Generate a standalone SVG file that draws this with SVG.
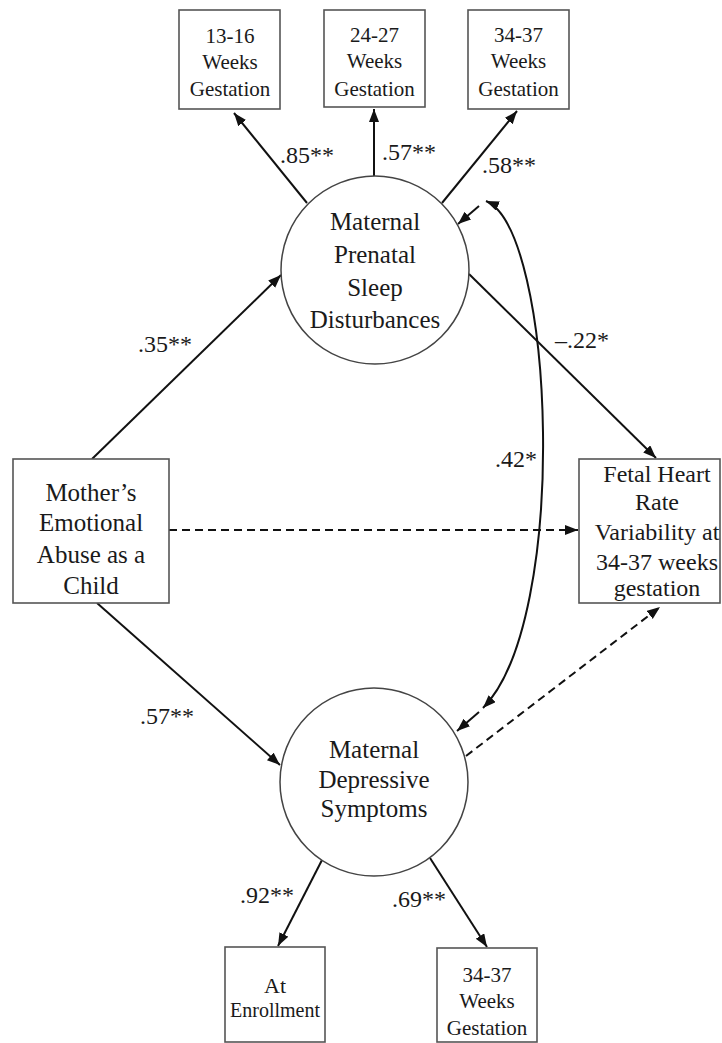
<svg xmlns="http://www.w3.org/2000/svg" width="722" height="1043" viewBox="0 0 722 1043">
<style>
  .box { fill: #fff; stroke: #555; stroke-width: 1.6; }
  .lat { fill: #fff; stroke: #444; stroke-width: 1.5; }
  text { font-family: "Liberation Serif", "Times New Roman", Tinos, "Nimbus Roman", "DejaVu Serif", serif; fill: #1a1a1a; }
  .t { text-anchor: middle; }
  .t25 { font-size: 25px; }
  .t24 { font-size: 24px; }
  .t21 { font-size: 21px; }
  .lbl { font-size: 24px; }
  .c { fill: none; stroke: #111; stroke-width: 2; }
  .d { fill: none; stroke: #111; stroke-width: 2; stroke-dasharray: 8 5; }
</style>
<defs>
  <marker id="ah" markerUnits="userSpaceOnUse" markerWidth="14" markerHeight="12" viewBox="0 0 14 12" refX="13" refY="5" orient="auto-start-reverse">
    <path d="M0,0 L13,5 L0,10 z" fill="#111"/>
  </marker>
</defs>
<rect width="722" height="1043" fill="#fff"/>

<g id="connectors">
  <line class="c" x1="307" y1="203" x2="234" y2="113" marker-end="url(#ah)"/>
  <line class="c" x1="374" y1="176" x2="374" y2="109" marker-end="url(#ah)"/>
  <line class="c" x1="442" y1="203" x2="517" y2="111" marker-end="url(#ah)"/>
  <line class="c" x1="92" y1="459" x2="281" y2="275" marker-end="url(#ah)"/>
  <line class="c" x1="97" y1="603" x2="280" y2="765" marker-end="url(#ah)"/>
  <line class="c" x1="469" y1="274" x2="656" y2="458" marker-end="url(#ah)"/>
  <line class="d" x1="169" y1="530" x2="578" y2="530" marker-end="url(#ah)"/>
  <line class="d" x1="466" y1="756" x2="660" y2="607" marker-end="url(#ah)"/>
  <path class="c" d="M486,201 C555,230 570,620 483,708" marker-start="url(#ah)" marker-end="url(#ah)"/>
  <line class="c" x1="479" y1="206" x2="458" y2="224" marker-end="url(#ah)"/>
  <line class="c" x1="479" y1="712" x2="457" y2="731" marker-end="url(#ah)"/>
  <line class="c" x1="322" y1="860" x2="278" y2="946" marker-end="url(#ah)"/>
  <line class="c" x1="430" y1="858" x2="487" y2="947" marker-end="url(#ah)"/>
</g>

<g id="labels">
  <text class="lbl" x="280" y="163">.85**</text>
  <text class="lbl" x="382" y="160">.57**</text>
  <text class="lbl" x="482" y="173">.58**</text>
  <text class="lbl" x="138" y="352">.35**</text>
  <text class="lbl" x="555" y="348">–.22*</text>
  <text class="lbl" x="495" y="467">.42*</text>
  <text class="lbl" x="140" y="724">.57**</text>
  <text class="lbl" x="240" y="903">.92**</text>
  <text class="lbl" x="392" y="907">.69**</text>
</g>

<g id="node-w13">
  <rect class="box" x="179" y="10" width="101" height="99"/>
  <text class="t t21" x="230" y="43">13-16</text>
  <text class="t t21" x="230" y="69">Weeks</text>
  <text class="t t21" x="230" y="96">Gestation</text>
</g>
<g id="node-w24">
  <rect class="box" x="324" y="10" width="101" height="97"/>
  <text class="t t21" x="374.5" y="42">24-27</text>
  <text class="t t21" x="374.5" y="68">Weeks</text>
  <text class="t t21" x="374.5" y="96">Gestation</text>
</g>
<g id="node-w34">
  <rect class="box" x="468" y="10" width="101" height="99"/>
  <text class="t t21" x="518.5" y="42">34-37</text>
  <text class="t t21" x="518.5" y="68">Weeks</text>
  <text class="t t21" x="518.5" y="96">Gestation</text>
</g>
<g id="node-sleep">
  <circle class="lat" cx="375" cy="270" r="94"/>
  <text class="t t25" x="375" y="230">Maternal</text>
  <text class="t t25" x="375" y="263">Prenatal</text>
  <text class="t t25" x="375" y="296">Sleep</text>
  <text class="t t25" x="375" y="328">Disturbances</text>
</g>
<g id="node-abuse">
  <rect class="box" x="13" y="459" width="156" height="144"/>
  <text class="t t25" x="91" y="501">Mother’s</text>
  <text class="t t25" x="91" y="531">Emotional</text>
  <text class="t t25" x="91" y="563">Abuse as a</text>
  <text class="t t25" x="91" y="594">Child</text>
</g>
<g id="node-fhr">
  <rect class="box" x="579" y="459" width="141" height="144"/>
  <text class="t t24" x="657" y="482">Fetal Heart</text>
  <text class="t t24" x="657" y="510">Rate</text>
  <text class="t t24" x="657" y="540">Variability at</text>
  <text class="t t24" x="657" y="570">34-37 weeks</text>
  <text class="t t24" x="657" y="596">gestation</text>
</g>
<g id="node-dep">
  <circle class="lat" cx="374" cy="782" r="94"/>
  <text class="t t25" x="374" y="758">Maternal</text>
  <text class="t t25" x="374" y="788">Depressive</text>
  <text class="t t25" x="374" y="817">Symptoms</text>
</g>
<g id="node-enroll">
  <rect class="box" x="225" y="947" width="100" height="95"/>
  <text class="t" style="font-size:22px" x="275" y="993">At</text>
  <text class="t" style="font-size:20px" x="275" y="1017">Enrollment</text>
</g>
<g id="node-d34">
  <rect class="box" x="437" y="948" width="100" height="94"/>
  <text class="t t21" x="487" y="982">34-37</text>
  <text class="t t21" x="487" y="1008">Weeks</text>
  <text class="t t21" x="487" y="1035">Gestation</text>
</g>
</svg>
